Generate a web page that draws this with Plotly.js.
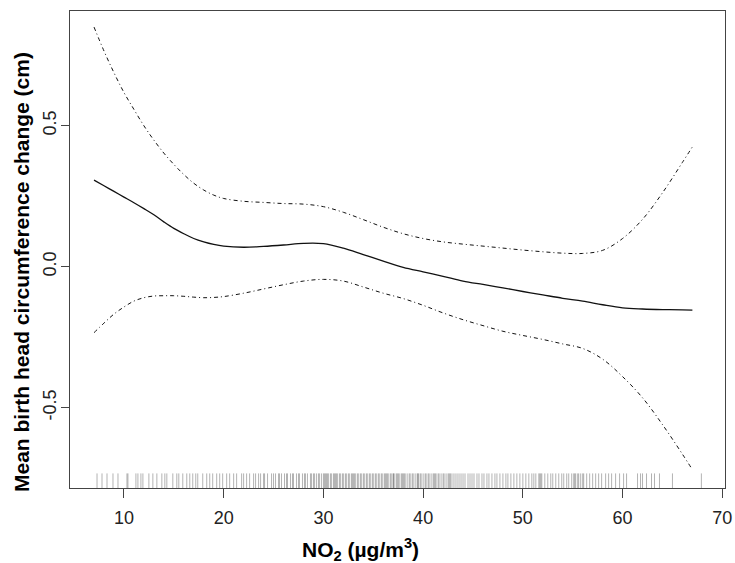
<!DOCTYPE html>
<html>
<head>
<meta charset="utf-8">
<script src="https://cdn.plot.ly/plotly-3.0.1.min.js"></script>
<style>html,body{margin:0;padding:0;background:#fff;}#chart{width:735px;height:563px;}</style>
</head>
<body>
<div id="chart"></div>
<script>
// NO2 grid (µg/m³)
const no2 = [7, 8, 9, 10, 11, 12, 13, 14, 15, 16, 17, 18, 19, 20, 22, 24, 26, 28, 30, 32, 34, 36, 38, 40, 42, 44, 46, 48, 50, 52, 54, 56, 58, 60, 62, 64, 66, 67];
// Estimated mean change (cm)
const fit = [0.307, 0.287, 0.267, 0.247, 0.227, 0.206, 0.184, 0.159, 0.136, 0.117, 0.100, 0.088, 0.079, 0.073, 0.069, 0.072, 0.077, 0.083, 0.082, 0.066, 0.043, 0.020, -0.002, -0.018, -0.034, -0.051, -0.063, -0.075, -0.088, -0.100, -0.112, -0.122, -0.135, -0.146, -0.150, -0.152, -0.153, -0.154];
// Upper confidence bound
const upper = [0.850, 0.765, 0.688, 0.618, 0.558, 0.500, 0.449, 0.403, 0.363, 0.327, 0.296, 0.272, 0.254, 0.242, 0.232, 0.228, 0.224, 0.222, 0.213, 0.193, 0.167, 0.140, 0.117, 0.100, 0.088, 0.080, 0.073, 0.066, 0.059, 0.053, 0.048, 0.047, 0.058, 0.100, 0.168, 0.262, 0.370, 0.425];
// Lower confidence bound
const lower = [-0.234, -0.200, -0.168, -0.143, -0.122, -0.110, -0.104, -0.103, -0.103, -0.105, -0.108, -0.110, -0.109, -0.106, -0.094, -0.079, -0.064, -0.051, -0.045, -0.051, -0.072, -0.094, -0.113, -0.137, -0.164, -0.188, -0.209, -0.229, -0.244, -0.258, -0.274, -0.290, -0.328, -0.390, -0.465, -0.560, -0.665, -0.720];
// Observed exposures (rug)
const rug = [7.3, 7.8, 8.3, 8.9, 9.4, 10.3, 10.4, 11.2, 11.4, 11.7, 11.9, 12.5, 12.9, 13.3, 13.8, 14.1, 14.3, 14.9, 15.3, 15.5, 15.9, 16.3, 16.6, 16.9, 17.2, 17.4, 17.9, 18.3, 18.6, 18.9, 19.3, 19.6, 19.9, 20.3, 20.6, 21.0, 21.3, 21.8, 22.0, 22.3, 22.6,
 23.0, 23.2, 23.5, 23.7, 24.0, 24.1, 24.4, 24.8, 25.0, 25.2, 25.5, 25.6, 25.8, 26.1, 26.3, 26.4, 26.7, 26.9, 27.0, 27.3, 27.5, 27.6, 27.9, 28.1, 28.2, 28.4, 28.7, 28.8, 29.0, 29.1, 29.3, 29.5, 29.6, 29.8, 30.0, 30.1, 30.2, 30.3, 30.4, 30.5, 30.7, 30.8, 31.0, 31.1, 31.2, 31.3, 31.4, 31.6, 31.7, 31.9, 32.0, 32.2, 32.3, 32.5, 32.6, 32.8, 32.9, 33.0, 33.1, 33.2, 33.4, 33.5, 33.7, 33.8, 34.0, 34.1, 34.3, 34.4, 34.6, 34.7, 34.9, 35.0, 35.2, 35.3, 35.5, 35.6, 35.8, 35.9, 36.1, 36.2, 36.3, 36.4, 36.5, 36.7, 36.8, 37.0, 37.0, 37.1, 37.3, 37.4, 37.5, 37.6, 37.8, 37.9, 38.0, 38.1, 38.2, 38.4, 38.6, 38.7, 38.9, 39.0, 39.2, 39.4, 39.5, 39.5, 39.7, 39.8, 40.0, 40.2, 40.3, 40.5, 40.6, 40.8, 41.0, 41.1, 41.2, 41.3, 41.5, 41.6, 41.8, 42.0, 42.1, 42.3, 42.5, 42.6, 42.7, 42.8, 43.0, 43.2, 43.4, 43.6, 43.8, 44.0, 44.2, 44.5, 44.7, 44.9, 45.1, 45.4, 45.6, 45.9, 46.1, 46.4, 46.6, 46.9, 47.2, 47.4, 47.7, 48.0, 48.3, 48.5, 48.8, 49.1, 49.4, 49.7, 50.0, 50.3, 50.6, 50.9, 51.1, 51.3, 51.6, 51.7, 51.8, 51.9, 52.2, 52.5, 52.8, 53.0, 53.3, 53.6, 53.9, 54.1, 54.4, 54.6, 54.9, 55.1, 55.2, 55.3, 55.5, 55.6, 55.8, 56.0, 56.1, 56.4, 56.7, 57.0, 57.3, 57.6, 57.9, 58.3, 58.6, 58.9, 59.3, 59.7, 60.1, 60.4, 61.5, 61.8, 62.0, 62.4, 62.9, 63.2, 63.7, 65.0, 67.9];
const rugLevel = -0.768;
const xTicks = [10, 20, 30, 40, 50, 60, 70];
const yTicks = [-0.5, 0.0, 0.5];
const yTickText = ['-0.5', '0.0', '0.5'];
const xTitle = '<b>NO<sub>2</sub> (µg/m<sup>3</sup>)</b>';
const yTitle = '<b>Mean birth head circumference change (cm)</b>';

const dashDot = '4px,3px,1px,3px';
const traces = [
  {x: no2, y: upper, type: 'scatter', mode: 'lines', line: {color: '#111', width: 1, dash: dashDot, shape: 'spline', smoothing: 1}, hoverinfo: 'skip'},
  {x: no2, y: lower, type: 'scatter', mode: 'lines', line: {color: '#111', width: 1, dash: dashDot, shape: 'spline', smoothing: 1}, hoverinfo: 'skip'},
  {x: no2, y: fit, type: 'scatter', mode: 'lines', line: {color: '#111', width: 1.3, shape: 'spline', smoothing: 1}, hoverinfo: 'skip'},
  {x: rug, y: rug.map(() => rugLevel), type: 'scatter', mode: 'markers',
   marker: {symbol: 'line-ns-open', size: 14, color: 'rgba(0,0,0,0.3)', line: {color: 'rgba(0,0,0,0.3)', width: 1}}, hoverinfo: 'skip'}
];

const tickFont = {family: 'Liberation Sans, Arial, sans-serif', size: 18, color: '#222'};
const titleFont = {family: 'Liberation Sans, Arial, sans-serif', size: 21, color: '#000'};

const layout = {
  width: 735, height: 563,
  margin: {l: 70, r: 10, t: 11, b: 75},
  paper_bgcolor: '#fff', plot_bgcolor: '#fff',
  showlegend: false,
  xaxis: {
    range: [4.59, 70.27], tickvals: xTicks, ticktext: xTicks.map(String),
    ticks: 'outside', ticklen: 9, tickwidth: 1, tickcolor: '#444',
    showline: true, mirror: true, linecolor: '#444', linewidth: 1,
    showgrid: false, zeroline: false, tickfont: tickFont, ticklabelstandoff: 4
  },
  yaxis: {
    range: [-0.785, 0.907], tickvals: yTicks, ticktext: yTickText, tickangle: -90,
    ticks: 'outside', ticklen: 8, tickwidth: 1, tickcolor: '#444',
    showline: true, mirror: true, linecolor: '#444', linewidth: 1,
    showgrid: false, zeroline: false, tickfont: tickFont, ticklabelstandoff: -2
  },
  annotations: [
    {text: xTitle, xref: 'paper', yref: 'paper', x: (360 - 70) / 655, y: -(549 - 488) / 477,
     xanchor: 'center', yanchor: 'middle', showarrow: false, font: titleFont},
    {text: yTitle, xref: 'paper', yref: 'paper', x: -(70 - 21) / 655, y: (488 - 272) / 477, textangle: -90,
     xanchor: 'center', yanchor: 'middle', showarrow: false, font: titleFont}
  ]
};

Plotly.newPlot('chart', traces, layout, {displayModeBar: false, staticPlot: true});
</script>
</body>
</html>
